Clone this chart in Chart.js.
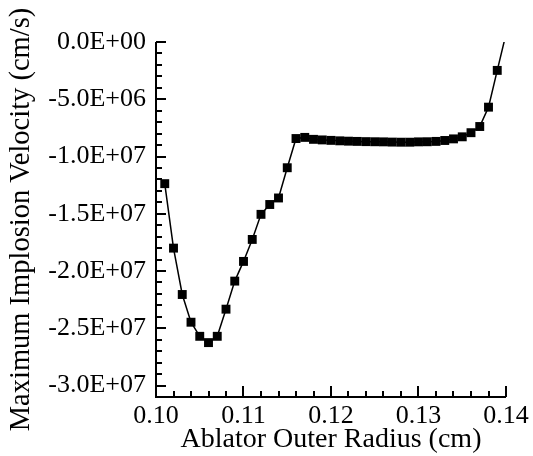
<!DOCTYPE html>
<html>
<head>
<meta charset="utf-8">
<script src="https://cdn.jsdelivr.net/npm/chart.js@4/dist/chart.umd.min.js"></script>
<style>
  body { margin: 0; background: #fff; }
</style>
</head>
<body>
<canvas id="myChart" width="533" height="456"></canvas>
<script>
// ablator outer radius (cm)
const radius = [0.101, 0.102, 0.103, 0.104, 0.105, 0.106, 0.107, 0.108, 0.109, 0.110,
                0.111, 0.112, 0.113, 0.114, 0.115, 0.116, 0.117, 0.118, 0.119, 0.120,
                0.121, 0.122, 0.123, 0.124, 0.125, 0.126, 0.127, 0.128, 0.129, 0.130,
                0.131, 0.132, 0.133, 0.134, 0.135, 0.136, 0.137, 0.138, 0.139, 0.140];
// maximum implosion velocity (cm/s)
const velocity = [-1.237e7, -1.80e7, -2.205e7, -2.447e7, -2.57e7, -2.625e7, -2.57e7, -2.333e7, -2.088e7, -1.916e7,
                  -1.724e7, -1.505e7, -1.419e7, -1.362e7, -1.098e7, -8.43e6, -8.33e6, -8.50e6, -8.55e6, -8.59e6,
                  -8.63e6, -8.66e6, -8.68e6, -8.70e6, -8.71e6, -8.72e6, -8.74e6, -8.75e6, -8.75e6, -8.72e6,
                  -8.71e6, -8.68e6, -8.60e6, -8.46e6, -8.28e6, -7.92e6, -7.38e6, -5.69e6, -2.48e6, 0.7e6];

const xTicks = [0.10, 0.11, 0.12, 0.13, 0.14];
const xTickLabels = ["0.10", "0.11", "0.12", "0.13", "0.14"];
const yTicks = [0, -5e6, -1e7, -1.5e7, -2e7, -2.5e7, -3e7];
const yTickLabels = ["0.0E+00", "-5.0E+06", "-1.0E+07", "-1.5E+07", "-2.0E+07", "-2.5E+07", "-3.0E+07"];

const serif = '"Liberation Serif", "Times New Roman", serif';

// axis lines + inward tick marks
const frame = {
    id: "frame",
    afterDraw(chart) {
        const ctx = chart.ctx;
        const xs = chart.scales.x, ys = chart.scales.y;
        const a = chart.chartArea;
        ctx.save();
        ctx.strokeStyle = "#000";
        ctx.lineWidth = 2;
        ctx.beginPath();
        ctx.moveTo(a.left, a.top);
        ctx.lineTo(a.left, a.bottom);
        ctx.lineTo(a.right, a.bottom);
        ctx.stroke();
        ctx.beginPath();
        for (let i = 0; i <= 20; i++) {
            const px = Math.round(xs.getPixelForValue(0.10 + i * 0.002));
            const len = i % 5 === 0 ? 11 : 6;
            ctx.moveTo(px, a.bottom);
            ctx.lineTo(px, a.bottom - len);
        }
        for (let i = 0; i <= 31; i++) {
            const py = Math.round(ys.getPixelForValue(-i * 1e6));
            const len = i % 5 === 0 ? 10 : 6;
            ctx.moveTo(a.left, py);
            ctx.lineTo(a.left + len, py);
        }
        ctx.stroke();
        ctx.restore();
    }
};

const ctx = document.getElementById("myChart");
new Chart(ctx, {
    type: "line",
    data: {
        datasets: [{
            data: radius.map((r, i) => ({x: r, y: velocity[i]})),
            borderColor: "#000",
            backgroundColor: "#000",
            borderWidth: 1.5,
            pointStyle: "rect",
            pointRadius: radius.map((r, i) => i === radius.length - 1 ? 0 : 6.3),
            pointBorderWidth: 0,
            tension: 0
        }]
    },
    options: {
        responsive: false,
        animation: false,
        layout: { padding: { top: 42, right: 27, left: 0, bottom: 0 } },
        plugins: { legend: { display: false }, tooltip: { enabled: false } },
        scales: {
            x: {
                type: "linear",
                min: 0.10,
                max: 0.14,
                afterBuildTicks: (s) => { s.ticks = xTicks.map(v => ({value: v})); },
                afterFit: (s) => { s.height = 59; },
                grid: { display: false, drawTicks: false },
                border: { display: false },
                ticks: {
                    color: "#000",
                    padding: 4,
                    maxRotation: 0,
                    font: { family: serif, size: 26 },
                    callback: (v, i) => xTickLabels[i]
                },
                title: {
                    display: true,
                    text: "Ablator Outer Radius (cm)",
                    color: "#000",
                    padding: 0,
                    font: { family: serif, size: 28 }
                }
            },
            y: {
                type: "linear",
                min: -3.1e7,
                max: 0,
                afterBuildTicks: (s) => { s.ticks = yTicks.map(v => ({value: v})); },
                afterFit: (s) => { s.width = 156; },
                grid: { display: false, drawTicks: false },
                border: { display: false },
                ticks: {
                    color: "#000",
                    padding: 10,
                    font: { family: serif, size: 26 },
                    callback: (v, i) => yTickLabels[i]
                },
                title: {
                    display: true,
                    text: "Maximum Implosion Velocity (cm/s)",
                    color: "#000",
                    padding: { top: 4, bottom: 0 },
                    font: { family: serif, size: 28.5 }
                }
            }
        }
    },
    plugins: [frame]
});
</script>
</body>
</html>
